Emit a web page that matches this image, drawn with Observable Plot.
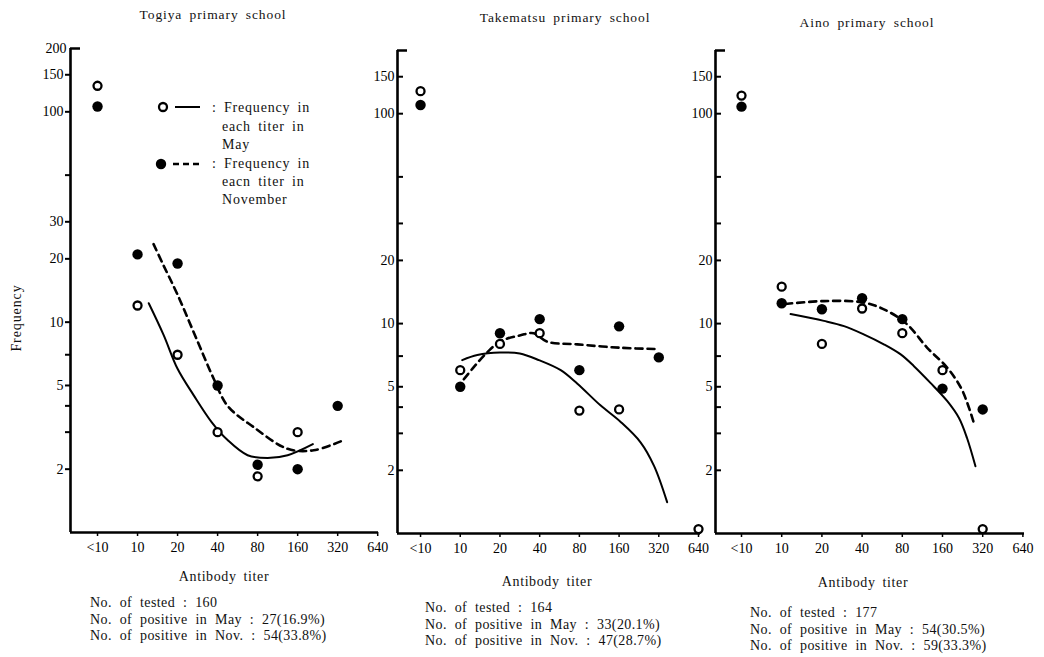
<!DOCTYPE html>
<html>
<head>
<meta charset="utf-8">
<script src="https://cdn.jsdelivr.net/npm/d3@7"></script>
<script src="https://cdn.jsdelivr.net/npm/@observablehq/plot@0.6"></script>
<style>
  body { margin: 0; background: white; }
  #root { position: relative; width: 1044px; height: 657px; background: white; overflow: hidden;
          font-family: 'Liberation Serif', 'Times New Roman', 'DejaVu Serif', serif; color: #111; }
  .abs { position: absolute; white-space: pre; line-height: 16px; }
  .panel { position: absolute; top: 0; }
  .title { font-size: 13.5px; letter-spacing: 0.9px; word-spacing: 3px; transform: translateX(-50%); }
  .xlab { font-size: 14px; letter-spacing: 0.6px; word-spacing: 3px; transform: translateX(-50%); }
  .foot { font-size: 14px; letter-spacing: 0.4px; word-spacing: 4px; line-height: 16.5px; }
  .leg { font-size: 14px; letter-spacing: 0.8px; word-spacing: 3px; line-height: 18px; }
</style>
</head>
<body>
<div id="root"></div>
<script>
// ---------- data ----------
const titers = ["<10", "10", "20", "40", "80", "160", "320", "640"];

// observed frequencies (null = no point)
const togiyaMay = [133, 12, 7, 3, 1.85, 3, null, null];
const togiyaNov = [106, 21, 19, 5, 2.1, 2, 4, null];
const takematsuMay = [128, 6, 8, 9, 3.85, 3.9, null, 1.05];
const takematsuNov = [110, 5, 9, 10.5, 6, 9.7, 6.9, null];
const ainoMay = [122, 15, 8, 11.8, 9, 6, 1.05, null];
const ainoNov = [108, 12.5, 11.7, 13.2, 10.5, 4.9, 3.9, null];

// fitted curves (titer index, frequency)
const togiyaMayCurveX = [1.28, 1.65, 2.0, 2.4, 2.85, 3.25, 3.75, 4.25, 4.75, 5.38];
const togiyaMayCurveY = [12.3, 8.7, 6.0, 4.5, 3.35, 2.75, 2.33, 2.26, 2.33, 2.63];
const togiyaNovCurveX = [1.4, 1.65, 2.0, 2.5, 2.9, 3.25, 3.9, 4.75, 5.4, 6.15];
const togiyaNovCurveY = [23.5, 18.6, 13.5, 8.1, 5.4, 4.0, 3.17, 2.5, 2.46, 2.75];

const takematsuMayCurveX = [1.05, 1.43, 2.0, 2.5, 2.98, 3.53, 3.95, 4.53, 5.04, 5.54, 5.88, 6.21];
const takematsuMayCurveY = [6.7, 7.08, 7.28, 7.2, 6.7, 6.0, 5.17, 4.08, 3.4, 2.72, 2.1, 1.41];
const takematsuNovCurveX = [1.09, 1.34, 1.68, 2.02, 2.52, 2.85, 3.19, 3.95, 5.04, 6.0];
const takematsuNovCurveY = [5.43, 6.2, 7.3, 8.25, 8.8, 9.0, 8.2, 7.96, 7.67, 7.56];

const ainoMayCurveX = [1.22, 2.05, 2.55, 3.04, 3.54, 3.96, 4.29, 4.7, 5.12, 5.41, 5.61, 5.82];
const ainoMayCurveY = [11.1, 10.3, 9.73, 8.89, 7.97, 7.13, 6.27, 5.22, 4.27, 3.55, 2.85, 2.09];
const ainoNovCurveX = [1.09, 2.05, 3.04, 3.62, 4.12, 4.62, 5.12, 5.46, 5.63, 5.78];
const ainoNovCurveY = [12.4, 12.8, 12.6, 11.5, 9.92, 7.67, 6.16, 4.94, 4.12, 3.36];

// axis ticks
const yTicksTogiya = [150, 100, 50, 30, 20, 10, 7, 5, 4, 3, 2];
const yLabelsTogiya = [200, 150, 100, 30, 20, 10, 5, 2];
const yTicksOther = [150, 100, 50, 30, 20, 10, 7, 5, 4, 3, 2];
const yLabelsOther = [150, 100, 20, 10, 5, 2];

const schools = ["Togiya primary school", "Takematsu primary school", "Aino primary school"];
const tested = [160, 164, 177];
const posMay = ["27(16.9%)", "33(20.1%)", "54(30.5%)"];
const posNov = ["54(33.8%)", "47(28.7%)", "59(33.3%)"];

// ---------- helpers ----------
const pts = (arr) => arr.map((v, i) => ({i, v})).filter(d => d.v != null);
const crv = (xs, ys) => xs.map((x, k) => ({i: x, v: ys[k]}));
const FONT = "'Liberation Serif', 'Times New Roman', 'DejaVu Serif', serif";

function panel(o) {
  const marks = [
    Plot.ruleY([1], {strokeWidth: 2.6}),
    Plot.ruleX([o.xDomain[0]], {strokeWidth: 2.6}),
    Plot.axisX({ticks: d3.range(titers.length), tickFormat: i => titers[i], tickSize: 4, tickPadding: 6,
                strokeWidth: 1.5, fontSize: 14, fontFamily: FONT, label: null}),
  ];
  if (o.inward) {
    marks.push(Plot.axisY({ticks: o.yTicks, tickSize: -6, tickPadding: 9, strokeWidth: 2,
      tickFormat: d => o.yLabels.includes(d) ? String(d) : "", fontSize: 14, fontFamily: FONT, label: null}));
    marks.push(Plot.axisY({ticks: [200], tickSize: -10, tickPadding: 13, strokeWidth: 2.5,
      tickFormat: () => "", label: null}));
  } else {
    marks.push(Plot.axisY({ticks: o.yTicks, tickSize: 5, tickPadding: 2, strokeWidth: 2,
      tickFormat: d => o.yLabels.includes(d) ? String(d) : "", fontSize: 14, fontFamily: FONT, label: null}));
    marks.push(Plot.axisY({ticks: [200], tickSize: -10, tickPadding: 14, strokeWidth: 2.5,
      tickFormat: d => String(d), fontSize: 14, fontFamily: FONT, label: null}));
  }
  marks.push(
    Plot.line(o.mayCurve, {x: "i", y: "v", curve: "catmull-rom", stroke: "black", strokeWidth: 2}),
    Plot.line(o.novCurve, {x: "i", y: "v", curve: "catmull-rom", stroke: "black", strokeWidth: 2.6,
                           strokeDasharray: "7,5"}),
    Plot.dot(o.nov, {x: "i", y: "v", r: 5.2, fill: "black", stroke: "none"}),
    Plot.dot(o.may, {x: "i", y: "v", r: 4, fill: "white", stroke: "black", strokeWidth: 2.3})
  );
  const chart = Plot.plot({
    width: o.width, height: 560,
    marginLeft: o.marginLeft, marginRight: o.marginRight, marginTop: o.marginTop, marginBottom: o.marginBottom,
    style: {background: "transparent", fontFamily: FONT, fontSize: "14px", color: "black", overflow: "visible"},
    x: {type: "linear", domain: o.xDomain},
    y: {type: "log", domain: [1, 200]},
    marks
  });
  chart.classList.add("panel");
  chart.style.left = o.left + "px";
  chart.style.maxWidth = "none";
  return chart;
}

const root = document.getElementById("root");

root.appendChild(panel({
  left: 0, width: 390, marginLeft: 70, marginRight: 12, marginTop: 48, marginBottom: 28,
  xDomain: [-0.675, 7.02], yTicks: yTicksTogiya, yLabels: yLabelsTogiya, inward: false,
  may: pts(togiyaMay), nov: pts(togiyaNov),
  mayCurve: crv(togiyaMayCurveX, togiyaMayCurveY), novCurve: crv(togiyaNovCurveX, togiyaNovCurveY)
}));
root.appendChild(panel({
  left: 340, width: 370, marginLeft: 57, marginRight: 10, marginTop: 50, marginBottom: 27,
  xDomain: [-0.58, 7.05], yTicks: yTicksOther, yLabels: yLabelsOther, inward: true,
  may: pts(takematsuMay), nov: pts(takematsuNov),
  mayCurve: crv(takematsuMayCurveX, takematsuMayCurveY), novCurve: crv(takematsuNovCurveX, takematsuNovCurveY)
}));
root.appendChild(panel({
  left: 680, width: 364, marginLeft: 35, marginRight: 20, marginTop: 50, marginBottom: 27,
  xDomain: [-0.647, 7.04], yTicks: yTicksOther, yLabels: yLabelsOther, inward: true,
  may: pts(ainoMay), nov: pts(ainoNov),
  mayCurve: crv(ainoMayCurveX, ainoMayCurveY), novCurve: crv(ainoNovCurveX, ainoNovCurveY)
}));

// ---------- text ----------
function addText(cls, txt, left, top) {
  const d = document.createElement("div");
  d.className = "abs " + cls;
  d.textContent = txt;
  d.style.left = left + "px";
  d.style.top = top + "px";
  root.appendChild(d);
  return d;
}
const titleX = [213, 565, 867], titleY = [7, 10, 15];
const xlabX = [224, 547, 863], xlabY = [569, 574, 575];
const footX = [90, 425, 750], footY = [595, 600, 605];
schools.forEach((s, k) => {
  addText("title", s, titleX[k], titleY[k]);
  addText("xlab", "Antibody titer", xlabX[k], xlabY[k]);
  addText("foot", `No. of tested : ${tested[k]}\nNo. of positive in May : ${posMay[k]}\nNo. of positive in Nov. : ${posNov[k]}`,
          footX[k], footY[k]);
});

// y label
const yl = addText("title", "Frequency", 17, 310);
yl.style.transform = "translateX(-50%) rotate(-90deg)";
yl.style.transformOrigin = "50% 50%";
yl.style.fontSize = "14px";

// legend
const NS = "http://www.w3.org/2000/svg";
const lg = document.createElementNS(NS, "svg");
lg.setAttribute("width", 60); lg.setAttribute("height", 90);
lg.style.position = "absolute"; lg.style.left = "150px"; lg.style.top = "90px";
lg.innerHTML = `
  <circle cx="13" cy="17" r="4" fill="white" stroke="black" stroke-width="2.3"/>
  <line x1="25" x2="50" y1="17" y2="17" stroke="black" stroke-width="2"/>
  <circle cx="11" cy="74" r="5.2" fill="black"/>
  <line x1="23" x2="50" y1="74" y2="74" stroke="black" stroke-width="2.6" stroke-dasharray="6,4"/>`;
root.appendChild(lg);
addText("leg", ": Frequency in", 212, 99);
addText("leg", "each titer in\nMay", 222, 118);
addText("leg", ": Frequency in", 212, 155);
addText("leg", "eacn titer in\nNovember", 222, 173);
</script>
</body>
</html>
